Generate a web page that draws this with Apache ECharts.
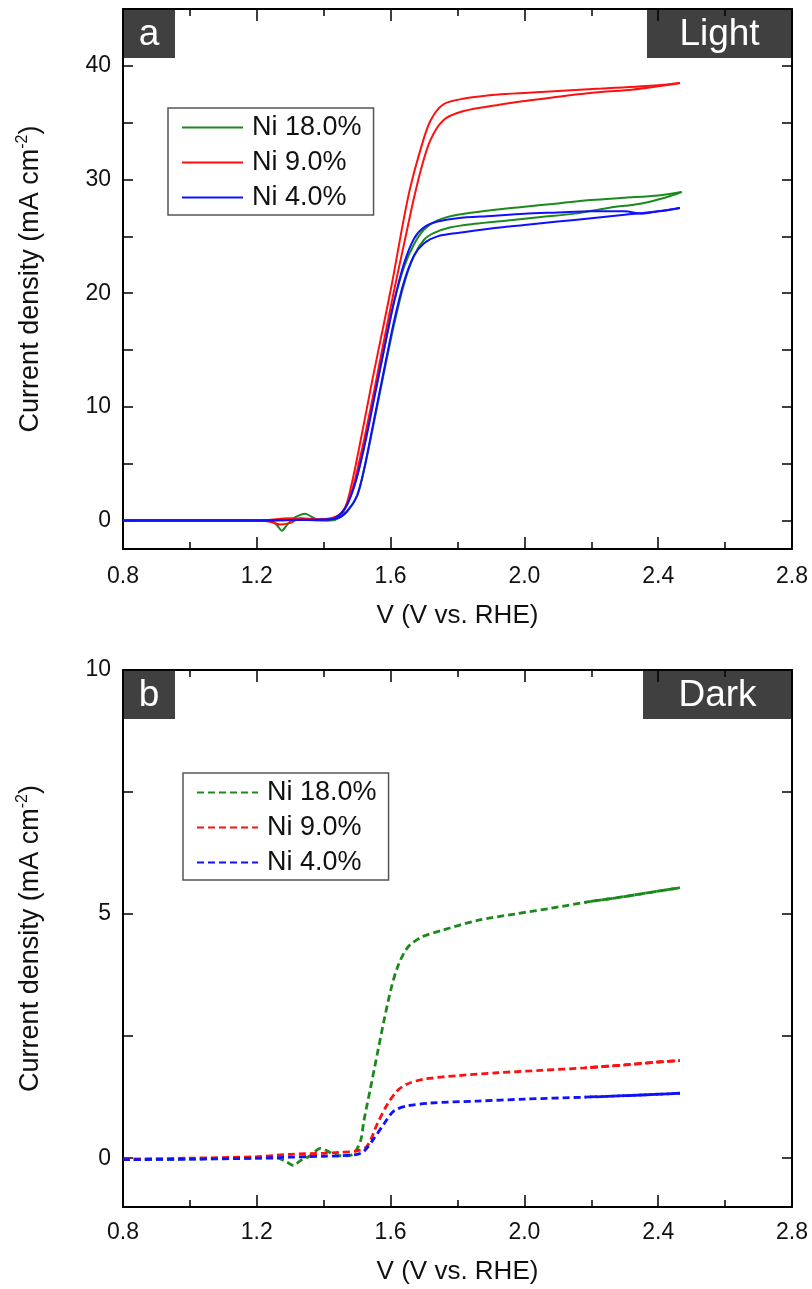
<!DOCTYPE html>
<html>
<head>
<meta charset="utf-8">
<script src="https://cdn.jsdelivr.net/npm/echarts@6/dist/echarts.min.js"></script>
<style>
html,body{margin:0;padding:0;background:#fff;}
#chart{width:812px;height:1289px;}
</style>
</head>
<body>
<div id="chart"></div>
<script>
// ---------- data ----------
var seriesNames = ['Ni 18.0%', 'Ni 9.0%', 'Ni 4.0%'];
var xTickLabels = [0.8, 1.2, 1.6, 2.0, 2.4, 2.8];
var yTicksLight = [0, 10, 20, 30, 40];
var yTicksDark = [0, 5, 10];

// Panel a (Light): forward and reverse scans
var lightGreenFwdV = [0.80,1.00,1.20,1.24,1.26,1.275,1.29,1.31,1.33,1.345,1.36,1.38,1.42,1.45,1.48,1.50,1.52,1.55,1.58,1.61,1.64,1.67,1.70,1.73,1.78,1.85,1.95,2.05,2.15,2.25,2.35,2.42,2.47];
var lightGreenFwdJ = [0,0,0,0,-0.4,-0.9,-0.4,0.2,0.5,0.6,0.4,0.1,0.0,0.3,1.2,2.2,4.4,8.6,13.0,17.2,20.8,23.3,24.7,25.3,25.8,26.1,26.4,26.7,27.0,27.5,27.9,28.4,28.9];
var lightGreenRevV = [2.47,2.40,2.30,2.20,2.10,2.00,1.90,1.80,1.74,1.70,1.67,1.64,1.61,1.58,1.55,1.52,1.50,1.47,1.44,1.40,1.30,1.20,1.00,0.80];
var lightGreenRevJ = [28.9,28.6,28.4,28.2,27.9,27.6,27.3,26.9,26.4,25.6,24.3,22.3,19.2,15.0,10.8,6.5,3.9,1.4,0.3,0.0,0.1,0.0,0.0,0.0];

var lightRedFwdV = [0.80,1.00,1.20,1.24,1.27,1.30,1.33,1.38,1.42,1.45,1.47,1.49,1.52,1.55,1.58,1.61,1.64,1.667,1.69,1.718,1.757,1.816,1.93,2.00,2.13,2.23,2.32,2.40,2.465];
var lightRedFwdJ = [0.0,0.0,0.0,-0.1,-0.35,-0.2,0.2,0.1,0.2,0.6,1.5,3.2,7.0,11.3,15.8,20.2,24.3,28.0,30.8,33.4,35.2,36.0,36.6,36.9,37.4,37.7,37.9,38.2,38.5];
var lightRedRevV = [2.465,2.40,2.23,2.05,1.93,1.816,1.757,1.718,1.688,1.658,1.634,1.607,1.577,1.547,1.518,1.488,1.464,1.44,1.40,1.30,1.20,1.00,0.80];
var lightRedRevJ = [38.5,38.3,38.0,37.7,37.5,37.1,36.6,35.1,32.5,29.2,25.7,21.3,16.9,12.6,8.2,3.8,1.1,0.3,0.1,0.2,0.0,0.0,0.0];

var lightBlueFwdV = [0.80,1.00,1.20,1.30,1.40,1.44,1.47,1.50,1.52,1.55,1.58,1.61,1.64,1.67,1.70,1.74,1.80,1.90,2.00,2.10,2.20,2.30,2.40,2.465];
var lightBlueFwdJ = [0,0,0,0.05,0.1,0.2,0.8,2.2,4.4,8.8,13.2,17.5,21.0,23.3,24.4,25.0,25.3,25.7,26.0,26.3,26.6,26.9,27.2,27.5];
var lightBlueRevV = [2.465,2.40,2.35,2.30,2.20,2.10,2.00,1.90,1.80,1.74,1.70,1.67,1.64,1.61,1.58,1.55,1.52,1.49,1.46,1.42,1.30,1.20,1.00,0.80];
var lightBlueRevJ = [27.5,27.2,27.0,27.2,27.2,27.1,27.0,26.8,26.6,26.3,25.8,24.8,22.6,19.2,15.0,10.6,6.3,2.9,0.9,0.1,0.05,0.0,0.0,0.0];

// Panel b (Dark)
var darkGreenV = [0.80,1.00,1.20,1.26,1.29,1.31,1.33,1.36,1.39,1.41,1.44,1.47,1.49,1.51,1.52,1.54,1.56,1.58,1.60,1.62,1.65,1.69,1.75,1.86,1.97,2.08,2.18,2.30,2.40,2.465];
var darkGreenJ = [-0.03,-0.02,0.0,0.0,-0.08,-0.15,-0.05,0.05,0.2,0.15,0.05,0.05,0.1,0.35,0.76,1.44,2.13,2.81,3.43,3.9,4.31,4.52,4.66,4.87,5.0,5.12,5.24,5.36,5.47,5.54];
var darkGreenRevV = [2.465,2.40,2.30,2.18];
var darkGreenRevJ = [5.54,5.47,5.36,5.24];

var darkRedV = [0.80,1.00,1.20,1.30,1.40,1.45,1.50,1.53,1.56,1.59,1.62,1.65,1.70,1.80,1.92,2.05,2.18,2.30,2.40,2.465];
var darkRedJ = [-0.02,0.0,0.03,0.08,0.1,0.12,0.15,0.25,0.7,1.1,1.38,1.52,1.62,1.69,1.75,1.8,1.85,1.91,1.97,2.0];
var darkRedRevV = [2.465,2.40,2.30,2.18];
var darkRedRevJ = [2.0,1.97,1.91,1.85];

var darkBlueV = [0.80,1.00,1.20,1.30,1.40,1.45,1.50,1.52,1.55,1.58,1.61,1.65,1.72,1.86,2.00,2.18,2.30,2.40,2.465];
var darkBlueJ = [-0.03,-0.02,0.0,0.02,0.04,0.05,0.08,0.14,0.4,0.7,0.97,1.07,1.13,1.17,1.21,1.25,1.28,1.31,1.33];
var darkBlueRevV = [2.465,2.40,2.30,2.18];
var darkBlueRevJ = [1.33,1.31,1.28,1.25];

// ---------- styling ----------
var colors = ['#1b8a1b', '#ff1010', '#1010ff'];
var FONT = 'Liberation Sans, Arial, sans-serif';

function pairs(v, j) { return v.map(function (x, i) { return [x, j[i]]; }); }

var chart = echarts.init(document.getElementById('chart'), null, {renderer: 'canvas'});

function xAxes(gridIndex, labelMargin, nameGap) {
  var common = {
    type: 'value', gridIndex: gridIndex, min: 0.8, max: 2.8, interval: 0.4,
    axisLine: {show: true, onZero: false, lineStyle: {color: '#000', width: 2}},
    splitLine: {show: false},
    minorTick: {show: true, splitNumber: 2, length: 7, lineStyle: {color: '#000', width: 1.5}},
    axisTick: {show: true, inside: true, length: 12, lineStyle: {color: '#000', width: 1.5}}
  };
  var bottom = Object.assign({}, common, {
    position: 'bottom',
    name: 'V (V vs. RHE)', nameLocation: 'middle', nameGap: nameGap,
    nameTextStyle: {fontFamily: FONT, fontSize: 26, color: '#111'},
    axisLabel: {show: true, margin: labelMargin, fontFamily: FONT, fontSize: 23, color: '#111',
      customValues: xTickLabels,
      formatter: function (v) { return v.toFixed(1); }}
  });
  var top = Object.assign({}, common, {position: 'top', axisLabel: {show: false}});
  return [bottom, top];
}

function yAxes(gridIndex, min, max, labels, ticks) {
  var common = {
    type: 'value', gridIndex: gridIndex, min: min, max: max,
    axisLine: {show: true, onZero: false, lineStyle: {color: '#000', width: 2}},
    splitLine: {show: false},
    axisTick: {show: true, inside: true, length: 10, customValues: ticks, lineStyle: {color: '#000', width: 1.5}}
  };
  var left = Object.assign({}, common, {
    position: 'left',
    name: '{a|Current density (mA cm}{s|-2}{a|)}', nameLocation: 'middle', nameGap: 76, nameRotate: 90,
    nameTextStyle: {
      rich: {
        a: {fontFamily: FONT, fontSize: 27, color: '#111', lineHeight: 32},
        s: {fontFamily: FONT, fontSize: 16, color: '#111', lineHeight: 32, verticalAlign: 'top', padding: [0, 0, 13, 0]}
      }
    },
    axisLabel: {show: true, margin: 12, fontFamily: FONT, fontSize: 23, color: '#111', customValues: labels}
  });
  var right = Object.assign({}, common, {position: 'right', axisLabel: {show: false}});
  return [left, right];
}

var xa = xAxes(0, 16, 54).concat(xAxes(1, 14, 52));
var ya = yAxes(0, -2.5, 45, yTicksLight, [0, 5, 10, 15, 20, 25, 30, 35, 40]).concat(
         yAxes(1, -1, 10, yTicksDark, [0, 2.5, 5, 7.5, 10]));

function lineSeries(name, data, color, xi, yi, dashed, offset) {
  return {
    type: 'line', name: name, data: data, xAxisIndex: xi, yAxisIndex: yi,
    showSymbol: false, symbol: 'none', legendIcon: 'none', smooth: 0.3, silent: true, animation: false,
    lineStyle: dashed ? {color: color, width: 2.8, type: [7, 4], dashOffset: offset || 0}
                      : {color: color, width: 2},
    itemStyle: {color: color}
  };
}

var series = [
  lineSeries(seriesNames[0], pairs(lightGreenFwdV, lightGreenFwdJ), colors[0], 0, 0),
  lineSeries(seriesNames[0], pairs(lightGreenRevV, lightGreenRevJ), colors[0], 0, 0),
  lineSeries(seriesNames[1], pairs(lightRedFwdV, lightRedFwdJ), colors[1], 0, 0),
  lineSeries(seriesNames[1], pairs(lightRedRevV, lightRedRevJ), colors[1], 0, 0),
  lineSeries(seriesNames[2], pairs(lightBlueFwdV, lightBlueFwdJ), colors[2], 0, 0),
  lineSeries(seriesNames[2], pairs(lightBlueRevV, lightBlueRevJ), colors[2], 0, 0),

  lineSeries(seriesNames[0] + '|b', pairs(darkGreenV, darkGreenJ), colors[0], 2, 2, true, 0),
  lineSeries(seriesNames[0] + '|b', pairs(darkGreenRevV, darkGreenRevJ), colors[0], 2, 2, true, 5),
  lineSeries(seriesNames[1] + '|b', pairs(darkRedV, darkRedJ), colors[1], 2, 2, true, 0),
  lineSeries(seriesNames[1] + '|b', pairs(darkRedRevV, darkRedRevJ), colors[1], 2, 2, true, 5),
  lineSeries(seriesNames[2] + '|b', pairs(darkBlueV, darkBlueJ), colors[2], 2, 2, true, 0),
  lineSeries(seriesNames[2] + '|b', pairs(darkBlueRevV, darkBlueRevJ), colors[2], 2, 2, true, 5)
];

function legend(left, top, names) {
  return {
    orient: 'vertical', left: left, top: top, data: names,
    borderColor: '#555', borderWidth: 1.5, backgroundColor: '#fff',
    padding: [6, 12, 4, 13], itemWidth: 61, itemHeight: 14, itemGap: 8,
    selectedMode: false,
    itemStyle: {opacity: 0},
    formatter: function (n) { return n.split('|')[0]; },
    textStyle: {fontFamily: FONT, fontSize: 27, color: '#111', lineHeight: 26, padding: [0, 0, 0, 4]}
  };
}

function tag(x, y, w, h, label) {
  return {
    type: 'group', left: x, top: y, silent: true,
    children: [
      {type: 'rect', shape: {x: 0, y: 0, width: w, height: h}, style: {fill: '#404040'}},
      {type: 'text', x: w / 2, y: h / 2 + 1, style: {text: label, fill: '#fff', font: '37px ' + FONT, align: 'center', verticalAlign: 'middle'}}
    ]
  };
}

chart.setOption({
  backgroundColor: '#fff',
  animation: false,
  grid: [
    {left: 123, top: 9, width: 669, height: 540, containLabel: false},
    {left: 123, top: 670, width: 669, height: 537, containLabel: false}
  ],
  xAxis: xa,
  yAxis: ya,
  legend: [
    legend(168, 108, seriesNames),
    legend(183, 773, seriesNames.map(function (n) { return n + '|b'; }))
  ],
  graphic: [
    tag(123, 9, 52, 49, 'a'),
    tag(647, 9, 145, 49, 'Light'),
    tag(123, 670, 52, 49, 'b'),
    tag(643, 670, 149, 49, 'Dark')
  ],
  series: series
});
</script>
</body>
</html>
